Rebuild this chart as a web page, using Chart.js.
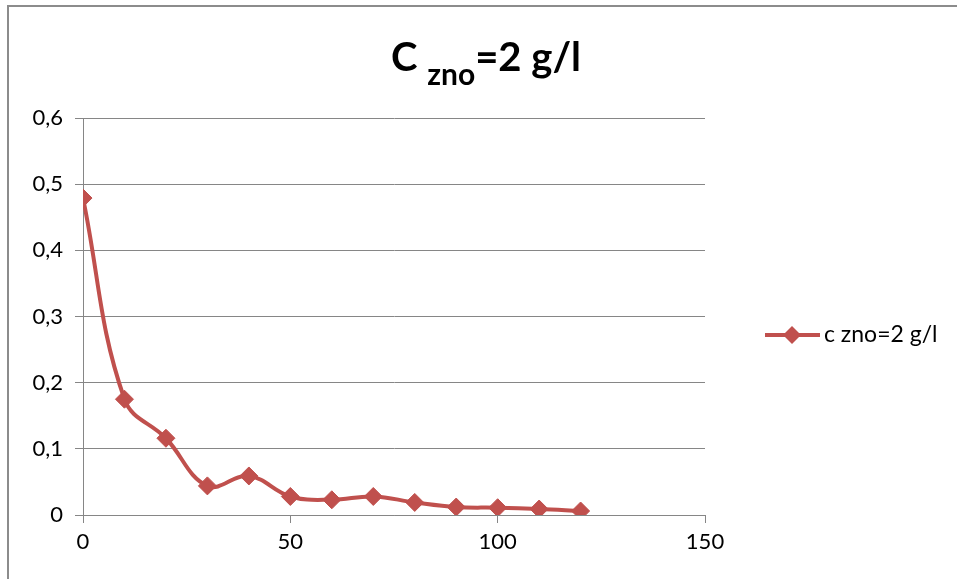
<!DOCTYPE html>
<html>
<head>
<meta charset="utf-8">
<script src="https://cdn.jsdelivr.net/npm/chart.js@4"></script>
<style>
  html, body { margin: 0; padding: 0; background: #fff; }
  #wrap { position: relative; width: 957px; height: 579px; }
</style>
</head>
<body>
<div id="wrap"><canvas id="c" width="957" height="579"></canvas></div>
<script>
// Time (x) and concentration (y) readings
const times = [0, 10, 20, 30, 40, 50, 60, 70, 80, 90, 100, 110, 120];
const conc = [0.479, 0.175, 0.116, 0.044, 0.059, 0.028, 0.023, 0.028, 0.019, 0.012, 0.011, 0.009, 0.006];
const seriesName = 'c zno=2 g/l';
const titleMain = 'C ';
const titleSub = 'zno';
const titleRest = '=2 g/l';
const xTicks = [0, 50, 100, 150];
const yTicks = [0, 0.1, 0.2, 0.3, 0.4, 0.5, 0.6];

const RED = '#C0504D';
const GRID = '#868686';
const FONT = 'Lato, "Open Sans", sans-serif';

const points = times.map((t, i) => ({ x: t, y: conc[i] }));

// Title with subscript, outer frame and line+marker legend
const decor = {
  id: 'decor',
  afterDraw(chart) {
    const ctx = chart.ctx;
    ctx.save();
    // frame
    ctx.strokeStyle = '#8c8c8c';
    ctx.lineWidth = 2;
    ctx.beginPath();
    ctx.moveTo(8, 579);
    ctx.lineTo(8, 6);
    ctx.lineTo(957, 6);
    ctx.stroke();

    // title
    ctx.fillStyle = '#000';
    ctx.textBaseline = 'alphabetic';
    ctx.textAlign = 'left';
    const big = 'bold 40px ' + FONT;
    const small = 'bold 30px ' + FONT;
    ctx.font = big;
    const w1 = ctx.measureText(titleMain).width;
    const w3 = ctx.measureText(titleRest).width;
    ctx.font = small;
    const w2 = ctx.measureText(titleSub).width;
    let x = 486 - (w1 + w2 + w3) / 2;
    const base = 71;
    ctx.font = big;
    ctx.fillText(titleMain, x, base);
    x += w1;
    ctx.font = small;
    ctx.fillText(titleSub, x, base + 14);
    x += w2;
    ctx.font = big;
    ctx.fillText(titleRest, x, base);

    // legend
    const ly = 335;
    ctx.strokeStyle = RED;
    ctx.lineWidth = 4;
    ctx.beginPath();
    ctx.moveTo(765, ly);
    ctx.lineTo(820, ly);
    ctx.stroke();
    ctx.fillStyle = RED;
    ctx.beginPath();
    ctx.moveTo(792, ly - 9);
    ctx.lineTo(801, ly);
    ctx.lineTo(792, ly + 9);
    ctx.lineTo(783, ly);
    ctx.closePath();
    ctx.fill();
    ctx.fillStyle = '#000';
    ctx.font = '23px ' + FONT;
    ctx.textBaseline = 'middle';
    ctx.fillText(seriesName, 824, ly);
    ctx.restore();
  }
};

new Chart(document.getElementById('c'), {
  type: 'line',
  data: {
    datasets: [{
      label: seriesName,
      data: points,
      borderColor: RED,
      backgroundColor: RED,
      borderWidth: 4,
      tension: 0.4,
      pointStyle: 'rectRot',
      pointRadius: 9,
      pointHoverRadius: 9,
      pointBorderWidth: 1,
      pointBackgroundColor: RED,
      pointBorderColor: RED,
      fill: false
    }]
  },
  options: {
    responsive: false,
    animation: false,
    events: [],
    layout: { padding: { left: 0, top: 118, right: 252, bottom: 0 } },
    plugins: { legend: { display: false }, title: { display: false }, tooltip: { enabled: false } },
    scales: {
      x: {
        type: 'linear',
        min: 0, max: 150,
        afterBuildTicks(s) { s.ticks = xTicks.map(v => ({ value: v })); },
        afterFit(s) { s.height = 579 - 515; },
        grid: { drawOnChartArea: false, drawTicks: true, tickLength: 8, color: GRID, lineWidth: 1 },
        border: { color: GRID, width: 1 },
        ticks: { color: '#000', font: { family: FONT, size: 22 }, padding: 6, maxRotation: 0 }
      },
      y: {
        min: 0, max: 0.6,
        afterBuildTicks(s) { s.ticks = yTicks.map(v => ({ value: v })); },
        afterFit(s) { s.width = 83; },
        grid: { drawTicks: true, tickLength: 8, color: GRID, lineWidth: 1 },
        border: { color: GRID, width: 1 },
        ticks: {
          color: '#000', font: { family: FONT, size: 22 }, padding: 12,
          callback: v => (v === 0 ? '0' : v.toFixed(1).replace('.', ','))
        }
      }
    }
  },
  plugins: [decor]
});
</script>
</body>
</html>
